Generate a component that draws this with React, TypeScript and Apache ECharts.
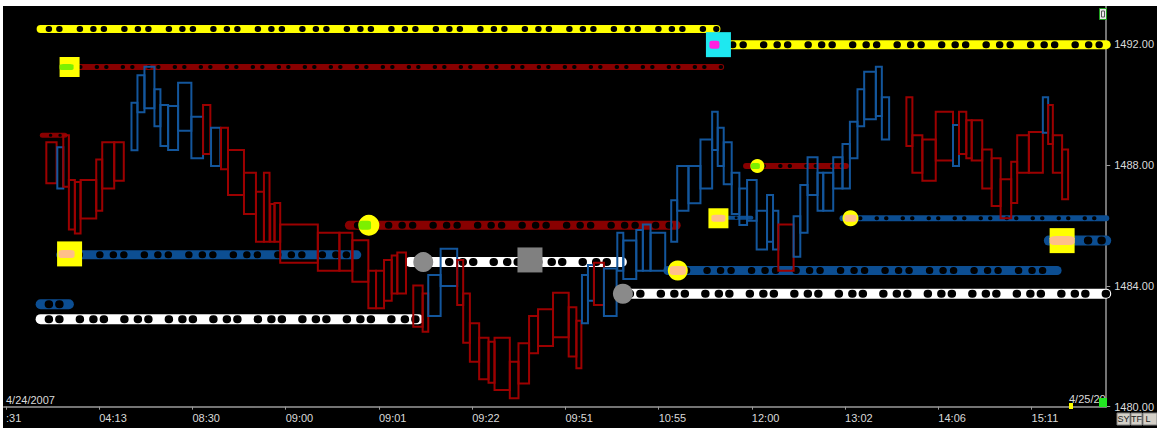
import React, { useEffect, useRef } from 'react';
import * as echarts from 'echarts';

// ---------- axis data ----------
const timeTicks = [5.3, 98.7, 192.1, 285.5, 378.9, 472.3, 565.7, 659.1, 752.5, 845.9, 939.3, 1032.7];
const timeLabels = [':31', '04:13', '08:30', '09:00', '09:01', '09:22', '09:51', '10:55', '12:00', '13:02', '14:06', '15:11'];
const priceTicks = [1480, 1484, 1488, 1492];
const priceMin = 1480;
const priceMax = 1493.27;
const dateLabels = ['4/24/2007', '4/25/2007'];

// ---------- boxes: [timeStart, timeEnd, high, low, direction(1 = up / 0 = down)] ----------
const boxes = [
  [45.7, 56, 1488.76, 1487.40, 0],
  [56.7, 62.7, 1488.59, 1487.23, 1],
  [62.7, 68.3, 1488.99, 1487.28, 0],
  [68.3, 74.3, 1487.51, 1485.87, 0],
  [74.3, 80, 1487.44, 1485.74, 0],
  [80, 95.7, 1487.51, 1486.23, 0],
  [95.7, 101.7, 1488.19, 1486.49, 0],
  [101.7, 113.7, 1488.76, 1487.23, 0],
  [113.7, 123.3, 1488.76, 1487.48, 0],
  [131, 137, 1490.07, 1488.49, 1],
  [137, 144, 1490.98, 1489.75, 1],
  [144, 154, 1491.26, 1489.88, 1],
  [154, 160, 1490.51, 1489.29, 1],
  [160, 167.7, 1489.99, 1488.63, 1],
  [167.7, 177.7, 1489.96, 1488.50, 1],
  [177.7, 191, 1490.73, 1489.14, 1],
  [191, 202.7, 1489.60, 1488.23, 1],
  [202.7, 210, 1489.99, 1488.37, 0],
  [210.7, 220, 1489.24, 1487.97, 1],
  [220.7, 227.7, 1489.24, 1487.86, 0],
  [227.7, 243.7, 1488.50, 1487.01, 0],
  [243.7, 255.7, 1487.75, 1486.38, 0],
  [255.7, 263.7, 1487.12, 1485.46, 0],
  [263.7, 269.3, 1487.75, 1485.46, 0],
  [270, 274.3, 1486.71, 1485.46, 0],
  [274.3, 280, 1486.75, 1485.46, 0],
  [280, 317.7, 1486.03, 1484.77, 0],
  [317.7, 339.3, 1485.76, 1484.50, 0],
  [339.3, 352.3, 1485.76, 1484.50, 0],
  [352.3, 368.3, 1485.51, 1484.14, 0],
  [368.3, 376, 1484.50, 1483.26, 0],
  [376, 384, 1484.50, 1483.26, 0],
  [384, 391.7, 1484.86, 1483.51, 0],
  [391.7, 397.3, 1485.01, 1483.75, 0],
  [397.3, 406, 1485.11, 1483.75, 0],
  [413.3, 422.7, 1484.01, 1482.65, 0],
  [422.7, 428.3, 1483.75, 1482.48, 0],
  [428.3, 440.7, 1484.36, 1483.00, 1],
  [440.7, 457.3, 1485.23, 1484.00, 1],
  [457.3, 463.3, 1484.86, 1483.37, 0],
  [463.3, 470, 1483.75, 1482.12, 0],
  [470, 479.3, 1482.76, 1481.49, 0],
  [479.3, 488.7, 1482.28, 1480.91, 0],
  [488.7, 494.7, 1482.15, 1480.79, 0],
  [494.7, 510, 1482.28, 1480.55, 0],
  [510, 518.7, 1481.49, 1480.28, 0],
  [518.7, 529.3, 1482.10, 1480.77, 0],
  [529.3, 538.3, 1483.00, 1481.77, 0],
  [538.3, 553.3, 1483.23, 1482.01, 0],
  [553.3, 569, 1483.77, 1482.30, 0],
  [569, 576.7, 1483.29, 1481.66, 0],
  [576.7, 581.7, 1482.85, 1481.27, 0],
  [582.3, 588.3, 1484.36, 1482.76, 1],
  [588.3, 594.3, 1484.69, 1483.51, 1],
  [594.3, 604.3, 1484.77, 1483.37, 0],
  [604.3, 617, 1484.58, 1483.00, 1],
  [617.7, 623.7, 1485.76, 1484.50, 1],
  [623.7, 636.7, 1485.50, 1484.23, 1],
  [636.7, 643.3, 1485.85, 1484.50, 1],
  [643.3, 651, 1486.03, 1484.50, 1],
  [651, 665.7, 1485.76, 1484.50, 1],
  [671.7, 677.7, 1486.84, 1485.46, 1],
  [677.7, 689, 1487.97, 1486.49, 1],
  [689, 701, 1487.97, 1486.74, 1],
  [701, 712.7, 1488.85, 1487.23, 1],
  [712.7, 718.3, 1489.77, 1488.50, 1],
  [718.3, 724.3, 1489.24, 1487.97, 1],
  [724.3, 732.3, 1488.76, 1487.37, 1],
  [732.3, 740, 1487.75, 1486.38, 1],
  [740, 747.7, 1487.23, 1486.02, 1],
  [747.7, 757.3, 1487.51, 1486.16, 1],
  [757.3, 767.7, 1486.49, 1485.21, 1],
  [767.7, 773.7, 1487.01, 1485.46, 1],
  [773.7, 779, 1486.49, 1485.21, 1],
  [779, 794.3, 1486.03, 1484.50, 0],
  [794.3, 801, 1486.31, 1484.97, 1],
  [801, 808.3, 1487.34, 1485.76, 1],
  [808.3, 818.3, 1488.26, 1487.01, 1],
  [818.3, 824, 1487.75, 1486.49, 1],
  [824, 834, 1487.75, 1486.49, 1],
  [834, 843.3, 1488.26, 1487.23, 1],
  [843.3, 850.7, 1488.70, 1487.23, 1],
  [850.7, 858.3, 1489.44, 1488.23, 1],
  [858.3, 865, 1490.51, 1489.29, 1],
  [865, 876.7, 1491.09, 1489.52, 1],
  [876.7, 882.7, 1491.26, 1489.63, 1],
  [882.7, 890, 1490.25, 1488.85, 1],
  [907.3, 913.3, 1490.25, 1488.63, 0],
  [913.3, 923.3, 1488.99, 1487.75, 0],
  [923.3, 936.7, 1488.85, 1487.48, 0],
  [936.7, 954, 1489.77, 1488.15, 0],
  [954, 960, 1489.33, 1487.97, 1],
  [960, 967.3, 1489.77, 1488.37, 0],
  [967.3, 972.7, 1489.49, 1488.23, 0],
  [972.7, 983.3, 1489.49, 1488.15, 0],
  [983.3, 992.7, 1488.52, 1487.23, 0],
  [992.7, 1001.7, 1488.23, 1486.65, 0],
  [1001.7, 1012.3, 1487.53, 1486.24, 0],
  [1012.3, 1018.3, 1488.11, 1486.75, 0],
  [1018.3, 1030, 1488.99, 1487.75, 0],
  [1030, 1044, 1489.10, 1487.75, 0],
  [1044, 1049.3, 1490.25, 1489.07, 1],
  [1049.3, 1054, 1489.99, 1488.70, 0],
  [1054, 1063.3, 1488.99, 1487.75, 0],
  [1063.3, 1069.3, 1488.52, 1486.87, 0],
];

// ---------- horizontal levels: [timeStart, timeEnd, price] ----------
const yellowLevels = [[40, 717, 1492.51], [725, 1107.5, 1491.99]];
const redLevels = [[62, 721.7, 1491.25], [41.7, 64.3, 1488.99], [349.3, 676.7, 1486.01], [746.7, 846.7, 1487.97]];
const blueLevels = [[60, 356.7, 1485.03], [40, 68.3, 1483.39], [668.3, 1058.3, 1484.51], [843.3, 1107.5, 1486.24], [1050, 1107.5, 1485.5], [719, 752, 1486.26]];
const whiteLevels = [[40, 418.3, 1482.9], [410, 622.3, 1484.79], [622, 1107.5, 1483.74]];

// ---------- markers: [time, price] ----------
const yellowSquares = [[69, 1491.25], [69, 1485.06], [719, 1486.24], [1063.3, 1485.5]];
const cyanSquares = [[719, 1491.99]];
const graySquares = [[530.2, 1484.86]];
const yellowDots = [[368.8, 1486.01], [678.3, 1484.51], [758, 1487.97], [851.3, 1486.24]];
const grayDots = [[423.3, 1484.79], [623.3, 1483.74]];
const greenInner = [[66, 1491.25], [365, 1486.01], [756, 1487.97]];
const peachInner = [[66, 1485.06], [719, 1486.24], [1063.3, 1485.5], [678.3, 1484.51], [851.3, 1486.24]];
const magentaInner = [[715, 1491.99]];

// ---------- styles ----------
const RED = '#9c0000';
const BLUE = '#13569c';
const LEVEL_COLORS = { yellow: '#ffff00', red: '#880000', blue: '#0c4e92', white: '#ffffff' };
const LEVEL_WIDTHS = {
  yellow: [8, 9],
  red: [6, 5, 9, 6],
  blue: [9, 10, 9, 6, 10, 4],
  white: [10, 10, 10],
};
const YELLOW_SQUARE_SIZES = [20, 25, 20, 25];
const YELLOW_DOT_SIZES = [21, 20, 14, 16];
const GREEN_INNER_SIZES = [[14, 6], [12, 9], [9, 6]];
const PEACH_INNER_SIZES = [[16, 8], [14, 7], [25, 9], [16, 9], [12, 7]];
const FONT = "'Liberation Sans', Arial, sans-serif";
const AXIS_COLOR = '#9a9a9a';
const TEXT_COLOR = '#dadada';

function levelSeries(name: string, levels: number[][], color: string, widths: number[]) {
  const out: any[] = [];
  levels.forEach((lv, i) => {
    const w = widths[i];
    const pts = [[lv[0], lv[2]], [lv[1], lv[2]]];
    out.push({
      name: name + i,
      type: 'line',
      data: pts,
      symbol: 'none',
      silent: true,
      z: 2,
      lineStyle: { color, width: w, cap: 'round' },
    });
    const d = w >= 8 ? w - 2 : Math.max(w - 2, 2.5);
    out.push({
      name: name + i + 'dots',
      type: 'line',
      data: pts,
      symbol: 'none',
      silent: true,
      z: 3,
      lineStyle: {
        color: '#000',
        width: d,
        type: w >= 8 ? [0.5, 10, 0.5, 20, 0.5, 13] : [0.5, 9, 0.5, 16],
        dashOffset: -8,
        cap: 'round',
      },
    });
  });
  return out;
}

function scatter(name: string, data: number[][], symbol: string, size: any, color: string, z: number) {
  return {
    name,
    type: 'scatter',
    data,
    symbol,
    symbolSize: size,
    silent: true,
    z,
    itemStyle: { color, opacity: 1 },
  };
}

function buildOption() {
  const series: any[] = [
    ...levelSeries('yl', yellowLevels, LEVEL_COLORS.yellow, LEVEL_WIDTHS.yellow),
    ...levelSeries('rl', redLevels, LEVEL_COLORS.red, LEVEL_WIDTHS.red),
    ...levelSeries('bl', blueLevels, LEVEL_COLORS.blue, LEVEL_WIDTHS.blue),
    ...levelSeries('wl', whiteLevels, LEVEL_COLORS.white, LEVEL_WIDTHS.white),
    {
      name: 'boxes',
      type: 'custom',
      data: boxes,
      encode: { x: [0, 1], y: [2, 3] },
      z: 5,
      silent: true,
      renderItem: (params: any, api: any) => {
        const a = api.coord([api.value(0), api.value(2)]);
        const b = api.coord([api.value(1), api.value(3)]);
        return {
          type: 'rect',
          shape: { x: a[0], y: a[1], width: b[0] - a[0], height: b[1] - a[1] },
          style: { fill: 'none', stroke: api.value(4) ? BLUE : RED, lineWidth: 2 },
        };
      },
    },
    scatter('yellowSquares', yellowSquares, 'rect', (v: any, p: any) => YELLOW_SQUARE_SIZES[p.dataIndex], '#ffff00', 8),
    scatter('cyanSquares', cyanSquares, 'rect', 25, '#1ee8f0', 8),
    scatter('graySquares', graySquares, 'rect', 25, '#808080', 8),
    scatter('yellowDots', yellowDots, 'circle', (v: any, p: any) => YELLOW_DOT_SIZES[p.dataIndex], '#ffff00', 8),
    scatter('grayDots', grayDots, 'circle', 20, '#8a8a8a', 8),
    scatter('greenInner', greenInner, 'roundRect', (v: any, p: any) => GREEN_INNER_SIZES[p.dataIndex], '#7cf000', 9),
    scatter('peachInner', peachInner, 'roundRect', (v: any, p: any) => PEACH_INNER_SIZES[p.dataIndex], '#ffbf8a', 9),
    scatter('magentaInner', magentaInner, 'roundRect', [10, 8], '#ff20e0', 9),
  ];

  const graphic: any[] = [
    { type: 'text', left: 3, top: 388, z: 20, style: { text: dateLabels[0], fill: TEXT_COLOR, font: `11px ${FONT}` } },
    {
      type: 'text', x: 1066, y: 387, z: 20,
      style: { text: dateLabels[1], fill: TEXT_COLOR, font: `11px ${FONT}`, width: 41, overflow: 'truncate', ellipsis: '' },
    },
    { type: 'rect', shape: { x: 1066, y: 397, width: 4, height: 6 }, style: { fill: '#ffff00' }, z: 21 },
    { type: 'rect', shape: { x: 1096, y: 392, width: 8, height: 9 }, style: { fill: '#22e622' }, z: 21 },
    { type: 'rect', shape: { x: 1096.5, y: 2.5, width: 7, height: 11 }, style: { fill: '#e8e8e8', stroke: '#1fa01f', lineWidth: 1 }, z: 21 },
    { type: 'rect', shape: { x: 1098.5, y: 5, width: 3, height: 6 }, style: { fill: 'none', stroke: '#555', lineWidth: 1 }, z: 22 },
    { type: 'rect', shape: { x: 1114, y: 407, width: 13, height: 12 }, style: { fill: '#d4d0c8', stroke: '#808080', lineWidth: 1 }, z: 21 },
    { type: 'text', x: 1120.5, y: 413, z: 22, style: { text: 'SY', fill: '#202020', font: `9px ${FONT}`, align: 'center', verticalAlign: 'middle' } },
    { type: 'rect', shape: { x: 1128, y: 407, width: 11, height: 12 }, style: { fill: '#d4d0c8', stroke: '#808080', lineWidth: 1 }, z: 21 },
    { type: 'text', x: 1133.5, y: 413, z: 22, style: { text: 'TF', fill: '#202020', font: `9px ${FONT}`, align: 'center', verticalAlign: 'middle' } },
    { type: 'rect', shape: { x: 1140, y: 407, width: 14, height: 12 }, style: { fill: '#d4d0c8', stroke: '#808080', lineWidth: 1 }, z: 21 },
    { type: 'text', x: 1145, y: 413, z: 22, style: { text: 'L', fill: '#202020', font: `9px ${FONT}`, align: 'center', verticalAlign: 'middle' } },
  ];

  return {
    animation: false,
    backgroundColor: '#000',
    grid: { left: 0, top: 0, right: 49.5, bottom: 21.3, containLabel: false },
    xAxis: {
      type: 'value',
      min: 3,
      max: 1107.5,
      splitLine: { show: false },
      axisLine: { show: true, lineStyle: { color: AXIS_COLOR, width: 1.5 } },
      axisTick: { show: true, customValues: timeTicks, length: 3, lineStyle: { color: AXIS_COLOR } },
      axisLabel: {
        customValues: timeTicks,
        formatter: (v: number) => {
          let best = 0;
          timeTicks.forEach((t, i) => { if (Math.abs(t - v) < Math.abs(timeTicks[best] - v)) best = i; });
          return timeLabels[best];
        },
        align: 'left',
        margin: 6,
        color: TEXT_COLOR,
        fontSize: 11,
        fontFamily: FONT,
      },
    },
    yAxis: {
      type: 'value',
      position: 'right',
      min: priceMin,
      max: priceMax,
      splitLine: { show: false },
      axisLine: { show: true, lineStyle: { color: AXIS_COLOR, width: 1.5 } },
      axisTick: { show: true, customValues: priceTicks, length: 4, lineStyle: { color: AXIS_COLOR } },
      axisLabel: {
        customValues: priceTicks,
        formatter: (v: number) => v.toFixed(2),
        margin: 8,
        color: TEXT_COLOR,
        fontSize: 11,
        fontFamily: FONT,
      },
    },
    series,
    graphic,
  };
}

export default function App() {
  const ref = useRef<HTMLDivElement>(null);
  useEffect(() => {
    if (!ref.current) return;
    const chart = echarts.init(ref.current, null, { renderer: 'svg' });
    chart.setOption(buildOption() as any);
    return () => chart.dispose();
  }, []);
  return (
    <div
      ref={ref}
      style={{ position: 'absolute', left: 3, top: 6, width: 1154, height: 422, background: '#000' }}
    />
  );
}
